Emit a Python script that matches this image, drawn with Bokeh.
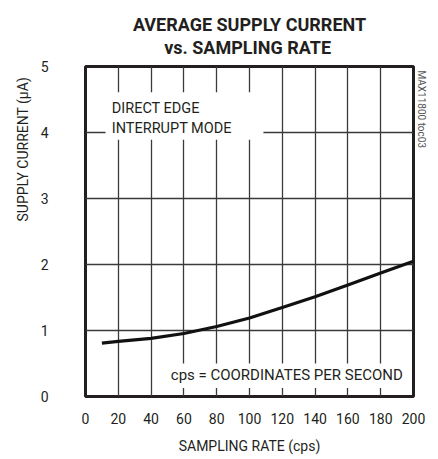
from bokeh.plotting import figure
from bokeh.models import Range1d, Label, BoxAnnotation, FixedTicker, Title
from bokeh.embed import file_html
from bokeh.resources import INLINE

# ---- data ----
rate_cps = [10, 20, 40, 60, 80, 100, 120, 140, 160, 180, 200]
current_uA = [0.81, 0.835, 0.88, 0.955, 1.06, 1.19, 1.35, 1.51, 1.69, 1.87, 2.05]
x_ticks = [0, 20, 40, 60, 80, 100, 120, 140, 160, 180, 200]
y_ticks = [0, 1, 2, 3, 4, 5]

title_lines = ["AVERAGE SUPPLY CURRENT", "vs. SAMPLING RATE"]
x_label = "SAMPLING RATE (cps)"
y_label = "SUPPLY CURRENT (\u00b5A)"
note_mode = ["DIRECT EDGE", "INTERRUPT MODE"]
note_cps = "cps = COORDINATES PER SECOND"
doc_id = "MAX11800 toc03"

FONT = "Roboto"
TXT = "#231f20"
GRID = "#3a3a3a"
NB = "\u00a0"

p = figure(width=438, height=459, output_backend="svg", toolbar_location=None,
           x_range=Range1d(0, 200), y_range=Range1d(0, 5),
           min_border_left=85, min_border_right=25,
           min_border_top=66, min_border_bottom=63)

p.background_fill_color = "white"
p.border_fill_color = "white"
p.outline_line_color = TXT
p.outline_line_width = 3

p.xaxis.ticker = FixedTicker(ticks=x_ticks)
p.yaxis.ticker = FixedTicker(ticks=y_ticks)
for ax in (p.xaxis, p.yaxis):
    ax.axis_line_color = None
    ax.major_tick_line_color = None
    ax.minor_tick_line_color = None
    ax.major_label_text_font = FONT
    ax.major_label_text_font_size = "14px"
    ax.major_label_text_color = TXT
p.xaxis.major_label_standoff = 10
p.yaxis.major_label_standoff = 31

p.xaxis.axis_label = x_label
p.xaxis.axis_label_text_font = FONT
p.xaxis.axis_label_text_font_size = "14px"
p.xaxis.axis_label_text_font_style = "normal"
p.xaxis.axis_label_text_color = TXT
p.xaxis.axis_label_standoff = 11

p.xgrid.grid_line_color = GRID
p.ygrid.grid_line_color = GRID
p.xgrid.grid_line_width = 1.3
p.ygrid.grid_line_width = 1.3

# two-line title (second line indented so that it sits centred)
title_text = title_lines[0] + "\n" + NB * 7 + title_lines[1]
p.add_layout(Title(text=title_text, align="center", text_font=FONT,
                   text_font_size="18px", text_font_style="bold",
                   text_line_height=1.12, text_color=TXT, standoff=16), "above")

# y axis label, placed toward the top like the reference
p.add_layout(Title(text=y_label + NB * 3, align="right", text_font=FONT,
                   text_font_size="14px", text_font_style="normal",
                   text_color=TXT, standoff=14), "left")

# document id on the right
p.add_layout(Title(text=doc_id, align="left", offset=4, text_font=FONT,
                   text_font_size="10px", text_font_style="normal",
                   text_color="#555555", standoff=5), "right")

# white masks behind the notes
p.add_layout(BoxAnnotation(left=12.2, right=108.5, bottom=3.89, top=4.61,
                           fill_color="white", fill_alpha=1, line_color=None))
p.add_layout(BoxAnnotation(left=51, right=199, bottom=0.13, top=0.50,
                           fill_color="white", fill_alpha=1, line_color=None))

p.line(rate_cps, current_uA, line_color="#111111", line_width=3.2)

def lab(x, y, text, size, **kw):
    d = dict(x=x, y=y, text=text, text_font=FONT, text_font_size=size,
             text_color=TXT, text_baseline="middle")
    d.update(kw)
    p.add_layout(Label(**d))

lab(16, 4.37, note_mode[0], "14.5px", text_align="left")
lab(16, 4.06, note_mode[1], "14.5px", text_align="left")
lab(52, 0.32, note_cps, "15px", text_align="left")

open("out.html", "w").write(file_html(p, INLINE))
